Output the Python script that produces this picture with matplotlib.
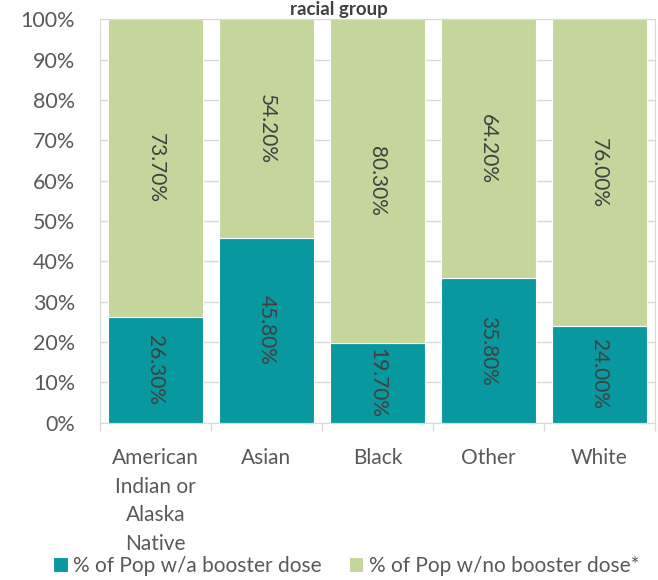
import numpy as np
import matplotlib.pyplot as plt

plt.rcParams['font.family'] = ['Lato', 'DejaVu Sans']

groups = ['American\nIndian or\nAlaska\nNative', 'Asian', 'Black', 'Other', 'White']
with_booster = [26.3, 45.8, 19.7, 35.8, 24.0]
no_booster = [73.7, 54.2, 80.3, 64.2, 76.0]

teal = '#08989F'
green = '#C5D69C'
txt = '#404040'
tick_col = '#595959'

fig = plt.figure(figsize=(6.58, 5.8), dpi=100)
ax = fig.add_axes([0.152, 0.271, 0.843, 0.696])

x = np.arange(len(groups))
b1 = ax.bar(x, with_booster, width=0.86, color=teal, edgecolor='white', linewidth=0.8,
            label='% of Pop w/a booster dose', zorder=2)
b2 = ax.bar(x, no_booster, width=0.86, bottom=with_booster, color=green, edgecolor='white',
            linewidth=0.8, label='% of Pop w/no booster dose*', zorder=2)

for i in range(len(groups)):
    ax.text(x[i], with_booster[i] / 2, f'{with_booster[i]:.2f}%', rotation=270,
            ha='center', va='center', fontsize=15, color=txt, zorder=3)
    ax.text(x[i], with_booster[i] + no_booster[i] / 2, f'{no_booster[i]:.2f}%', rotation=270,
            ha='center', va='center', fontsize=15, color=txt, zorder=3)

ax.set_xlim(-0.5, len(groups) - 0.5)
ax.set_ylim(0, 100)
ax.set_yticks(np.arange(0, 101, 10))
ax.set_yticklabels([f'{v}%' for v in range(0, 101, 10)])
ax.yaxis.grid(True, color='#D9D9D9', linewidth=1, zorder=0)
ax.set_axisbelow(True)
ax.tick_params(axis='y', length=0, labelsize=15.5, labelcolor=tick_col, pad=18)

ax.set_xticks(x)
ax.set_xticklabels(groups, linespacing=1.55)
ax.set_xticks(np.arange(-0.5, len(groups)), minor=True)
ax.tick_params(axis='x', which='major', length=0, labelsize=15, labelcolor=tick_col, pad=18)
ax.tick_params(axis='x', which='minor', length=6, color='#D9D9D9', width=1)

for s in ax.spines.values():
    s.set_color('#D9D9D9')

fig.text(0.515, 0.999, 'racial group', ha='center', va='top', fontsize=13.5,
         fontweight='bold', color=txt)

fig.legend(handles=[b1, b2], loc='center', bbox_to_anchor=(0.526, 0.024), ncol=2,
           frameon=False, fontsize=15, handlelength=0.7, handleheight=0.7,
           handletextpad=0.25, columnspacing=1.3, labelcolor=tick_col, borderpad=0)

fig.savefig('out.png', dpi=100)
